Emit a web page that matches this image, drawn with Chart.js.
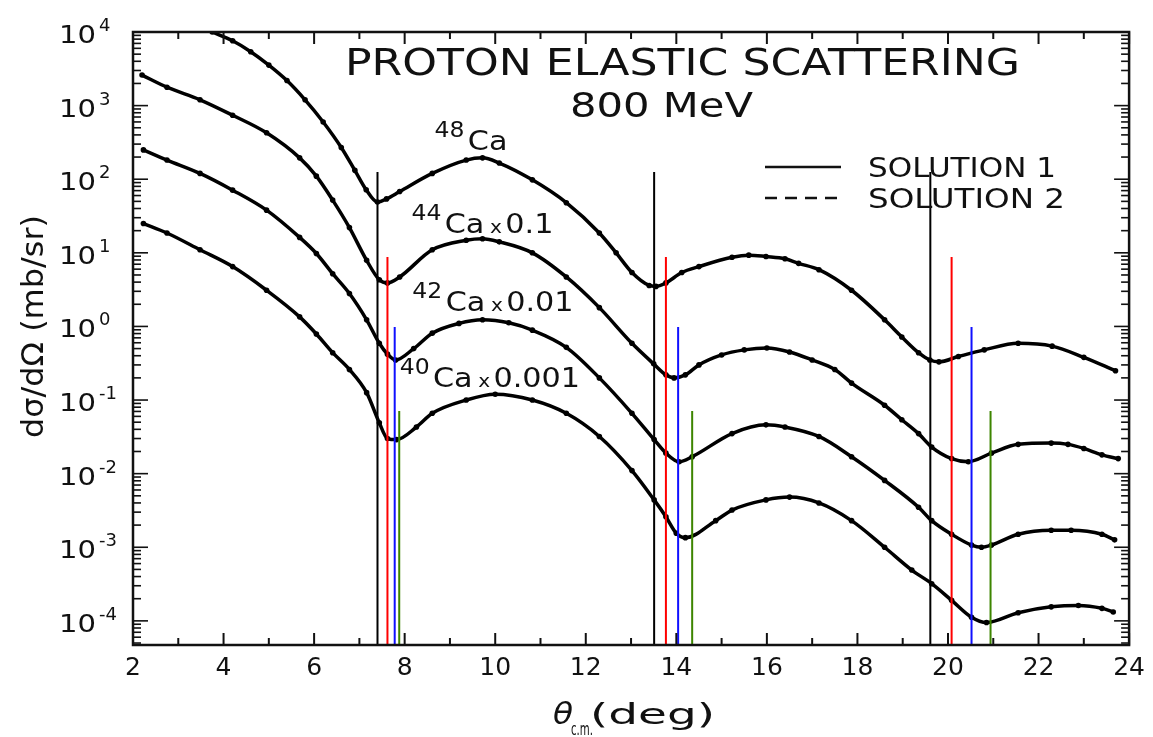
<!DOCTYPE html>
<html>
<head>
<meta charset="utf-8">
<script src="https://cdn.jsdelivr.net/npm/chart.js@4.4.1/dist/chart.umd.min.js"></script>
<style>
  html, body { margin: 0; padding: 0; background: #fff; }
  #wrap { width: 1153px; height: 737px; }
</style>
</head>
<body>
<div id="wrap"><canvas id="chart" width="1153" height="737"></canvas></div>
<script>
// 800 MeV proton elastic scattering on Ca isotopes
// angles in deg (c.m.), cross sections in mb/sr (already scaled)
const ca48Angle = [3.75, 4.2, 4.6, 5.0, 5.4, 5.8, 6.2, 6.6, 6.9, 7.15, 7.4, 7.6, 7.89, 8.61, 9.36, 9.72, 10.09, 10.82, 11.57, 12.3, 12.67, 13.02, 13.4, 13.55, 13.77, 14.12, 14.5, 15.23, 15.6, 15.98, 16.4, 16.7, 17.15, 17.87, 18.6, 18.98, 19.35, 19.6, 19.8, 20.23, 20.8, 21.55, 22.3, 23.0, 23.7];
const ca48Sigma = [10000, 7600, 5400, 3550, 2190, 1200, 600, 270, 132, 72, 49, 54, 68, 120, 182, 195, 166, 98, 48, 18.6, 10, 5.4, 3.6, 3.5, 3.9, 5.4, 6.5, 8.7, 9.3, 8.9, 8.3, 7.2, 5.9, 3.1, 1.23, 0.72, 0.44, 0.35, 0.33, 0.39, 0.48, 0.59, 0.54, 0.38, 0.25];

const ca44Angle = [2.2, 2.75, 3.48, 4.2, 4.95, 5.68, 6.05, 6.41, 6.78, 7.16, 7.44, 7.62, 7.89, 8.61, 9.36, 9.72, 10.09, 10.82, 11.57, 12.3, 13.02, 13.5, 13.77, 13.95, 14.2, 14.5, 15.0, 15.5, 16.0, 16.5, 17.0, 17.5, 17.87, 18.6, 18.98, 19.35, 19.64, 20.08, 20.45, 20.96, 21.55, 22.28, 22.65, 23.0, 23.4, 23.76];
const ca44Sigma = [2600, 1780, 1200, 740, 427, 195, 110, 52, 22, 7.9, 4.3, 3.9, 4.7, 11, 14.8, 15.5, 14.1, 10, 4.7, 1.8, 0.59, 0.31, 0.22, 0.2, 0.22, 0.30, 0.41, 0.48, 0.51, 0.45, 0.35, 0.26, 0.17, 0.085, 0.054, 0.035, 0.023, 0.016, 0.0145, 0.019, 0.025, 0.026, 0.025, 0.022, 0.018, 0.016];

const ca42Angle = [2.23, 2.75, 3.48, 4.2, 4.95, 5.68, 6.05, 6.41, 6.78, 7.16, 7.44, 7.62, 7.8, 8.2, 8.61, 9.2, 9.72, 10.3, 10.82, 11.57, 12.3, 13.02, 13.51, 13.77, 14.06, 14.35, 15.23, 15.98, 16.4, 17.15, 17.87, 18.6, 19.35, 19.64, 20.08, 20.52, 20.74, 20.96, 21.55, 22.28, 22.72, 23.4, 23.68];
const ca42Sigma = [250, 182, 120, 71, 38, 16.2, 9.8, 5.2, 2.8, 1.23, 0.59, 0.42, 0.35, 0.5, 0.81, 1.1, 1.23, 1.12, 0.89, 0.52, 0.20, 0.066, 0.029, 0.019, 0.0145, 0.017, 0.035, 0.046, 0.043, 0.032, 0.017, 0.0081, 0.0035, 0.0023, 0.0015, 0.00107, 0.001, 0.00107, 0.0015, 0.0017, 0.0017, 0.0015, 0.00126];

const ca40Angle = [2.23, 2.75, 3.48, 4.2, 4.95, 5.68, 6.05, 6.41, 6.78, 7.16, 7.44, 7.62, 7.82, 8.26, 8.61, 9.36, 10.0, 10.82, 11.57, 12.3, 13.02, 13.51, 13.77, 14.0, 14.2, 14.87, 15.23, 15.98, 16.5, 17.15, 17.87, 18.6, 19.2, 19.64, 20.08, 20.52, 20.85, 21.55, 22.28, 22.88, 23.4, 23.65];
const ca40Sigma = [25, 18.6, 11, 6.5, 3.1, 1.35, 0.79, 0.44, 0.26, 0.126, 0.049, 0.030, 0.029, 0.043, 0.066, 0.10, 0.12, 0.10, 0.066, 0.032, 0.011, 0.0044, 0.0026, 0.00155, 0.00135, 0.0023, 0.0032, 0.0044, 0.0048, 0.0040, 0.0023, 0.0010, 0.00049, 0.00032, 0.00019, 0.000112, 0.000095, 0.000129, 0.000155, 0.000162, 0.000148, 0.000132];

// vertical marker lines (minima positions) and the value where each one stops
const blackMarkAngles = [7.40, 13.51, 19.61];
const redMarkAngles = [7.62, 13.77, 20.08];
const blueMarkAngles = [7.78, 14.04, 20.52];
const greenMarkAngles = [7.88, 14.35, 20.94];
const markTops = { black: 125, red: 8.8, blue: 0.98, green: 0.071 };

const xTickValues = [2, 4, 6, 8, 10, 12, 14, 16, 18, 20, 22, 24];
const yExponents = [4, 3, 2, 1, 0, -1, -2, -3, -4];

const X_MIN = 2, X_MAX = 24;
const Y_MIN = 4.7e-5, Y_MAX = 1e4;
const FONT = '"DejaVu Sans", sans-serif';

function pairs(angles, sigma) {
  return angles.map((a, i) => ({ x: a, y: sigma[i] }));
}

function markerData(angles, top) {
  const pts = [];
  angles.forEach((a) => {
    pts.push({ x: a, y: Y_MIN }, { x: a, y: top }, { x: a, y: null });
  });
  return pts;
}

function curve(label, data) {
  return {
    label: label,
    data: data,
    showLine: true,
    borderColor: "#000",
    borderWidth: 3.5,
    pointRadius: 2.8,
    pointBackgroundColor: "#000",
    pointBorderWidth: 0,
    cubicInterpolationMode: "monotone",
    order: 2,
  };
}

function marker(label, data, color) {
  return {
    label: label,
    data: data,
    showLine: true,
    spanGaps: false,
    borderColor: color,
    borderWidth: 2,
    pointRadius: 0,
    order: 1,
  };
}

// text squeezed/stretched to a given width, like the lettering of the original
function fitText(ctx, text, x, y, size, width, italic) {
  ctx.font = (italic ? "italic " : "") + size + "px " + FONT;
  const w = ctx.measureText(text).width;
  ctx.save();
  ctx.translate(x, y);
  ctx.scale(width / w, 1);
  ctx.textAlign = "left";
  ctx.textBaseline = "alphabetic";
  ctx.fillText(text, 0, 0);
  ctx.restore();
}

function drawIsotope(ctx, px, py, mass, factor) {
  const k = 1.12;
  ctx.save();
  ctx.translate(px, py);
  ctx.scale(k, 1);
  ctx.textAlign = "left";
  ctx.textBaseline = "alphabetic";
  let cx = 0;
  ctx.font = "21px " + FONT;
  ctx.fillText(mass, cx, -13);
  cx += ctx.measureText(mass).width + 3;
  ctx.font = "27px " + FONT;
  ctx.fillText("Ca", cx, 0);
  cx += ctx.measureText("Ca").width + 5;
  if (factor) {
    ctx.font = "18px " + FONT;
    ctx.fillText("x", cx, 0);
    cx += ctx.measureText("x").width + 3;
    ctx.font = "27px " + FONT;
    ctx.fillText(factor, cx, 0);
  }
  ctx.restore();
}

const paperPlugin = {
  id: "paper",
  afterDraw(chart) {
    const { ctx, chartArea: a } = chart;
    const x = chart.scales.x;
    const y = chart.scales.y;
    ctx.save();
    ctx.strokeStyle = "#111";
    ctx.fillStyle = "#111";

    function seg(x1, y1, x2, y2) {
      ctx.beginPath();
      ctx.moveTo(x1, y1);
      ctx.lineTo(x2, y2);
      ctx.stroke();
    }

    // inward ticks, all four sides
    ctx.lineWidth = 2;
    for (let v = X_MIN; v <= X_MAX; v++) {
      const px = x.getPixelForValue(v);
      const len = v % 2 === 0 ? 12 : 7;
      seg(px, a.bottom, px, a.bottom - len);
      seg(px, a.top, px, a.top + len);
    }
    ctx.lineWidth = 1.6;
    for (let e = -5; e <= 4; e++) {
      for (let m = 1; m <= 9; m++) {
        const v = m * Math.pow(10, e);
        if (v < Y_MIN || v > Y_MAX) continue;
        const py = y.getPixelForValue(v);
        const len = m === 1 ? 15 : 8;
        seg(a.left, py, a.left + len, py);
        seg(a.right, py, a.right - len, py);
      }
    }

    // frame
    ctx.lineWidth = 2.5;
    ctx.strokeRect(a.left, a.top, a.right - a.left, a.bottom - a.top);

    // y tick labels 10^n
    ctx.textBaseline = "alphabetic";
    yExponents.forEach((e) => {
      const py = y.getPixelForValue(Math.pow(10, e));
      fitText(ctx, "10", 59, py + 11, 25, 37);
      ctx.font = "18px " + FONT;
      ctx.textAlign = "left";
      ctx.fillText(e < 0 ? "-" + Math.abs(e) : String(e), 99, py - 1);
    });

    // axis titles
    ctx.save();
    ctx.translate(43, 438);
    ctx.rotate(-Math.PI / 2);
    fitText(ctx, "d\u03c3/d\u03a9 (mb/sr)", 0, 0, 30, 223);
    ctx.restore();
    fitText(ctx, "\u03b8", 553, 724, 30, 20, true);
    fitText(ctx, "c.m.", 571, 735, 17, 22);
    fitText(ctx, "(deg)", 590, 724, 28, 125);

    // title
    fitText(ctx, "PROTON ELASTIC SCATTERING", 345, 75, 37, 675);
    fitText(ctx, "800 MeV", 570, 117, 34, 183);

    // legend
    ctx.lineWidth = 2.5;
    seg(765, 167, 841, 167);
    ctx.setLineDash([12, 8]);
    seg(765, 198, 845, 198);
    ctx.setLineDash([]);
    fitText(ctx, "SOLUTION 1", 868, 177, 27, 188);
    fitText(ctx, "SOLUTION 2", 868, 208, 27, 197);

    // curve labels, anchored on the data scales
    drawIsotope(ctx, x.getPixelForValue(8.66), y.getPixelForValue(250), "48", "");
    drawIsotope(ctx, x.getPixelForValue(8.15), y.getPixelForValue(18.6), "44", "0.1");
    drawIsotope(ctx, x.getPixelForValue(8.17), y.getPixelForValue(1.62), "42", "0.01");
    drawIsotope(ctx, x.getPixelForValue(7.89), y.getPixelForValue(0.15), "40", "0.001");

    ctx.restore();
  },
};

new Chart(document.getElementById("chart"), {
  type: "scatter",
  data: {
    datasets: [
      curve("48Ca", pairs(ca48Angle, ca48Sigma)),
      curve("44Ca x 0.1", pairs(ca44Angle, ca44Sigma)),
      curve("42Ca x 0.01", pairs(ca42Angle, ca42Sigma)),
      curve("40Ca x 0.001", pairs(ca40Angle, ca40Sigma)),
      marker("48Ca minima", markerData(blackMarkAngles, markTops.black), "#000000"),
      marker("44Ca minima", markerData(redMarkAngles, markTops.red), "#ff0000"),
      marker("42Ca minima", markerData(blueMarkAngles, markTops.blue), "#1010ff"),
      marker("40Ca minima", markerData(greenMarkAngles, markTops.green), "#3d8500"),
    ],
  },
  options: {
    responsive: false,
    animation: false,
    devicePixelRatio: 1,
    layout: { padding: { top: 32, right: 23, left: 0, bottom: 0 } },
    plugins: {
      legend: { display: false },
      tooltip: { enabled: false },
    },
    scales: {
      x: {
        type: "linear",
        min: X_MIN,
        max: X_MAX,
        grid: { display: false, drawTicks: false },
        border: { display: false },
        afterBuildTicks: (s) => {
          s.ticks = xTickValues.map((v) => ({ value: v }));
        },
        ticks: {
          autoSkip: false,
          maxRotation: 0,
          color: "#111",
          padding: 8,
          font: { family: "DejaVu Sans", size: 25 },
        },
        afterFit: (s) => {
          s.height = 92;
        },
      },
      y: {
        type: "logarithmic",
        min: Y_MIN,
        max: Y_MAX,
        grid: { display: false, drawTicks: false },
        border: { display: false },
        ticks: { display: false },
        afterFit: (s) => {
          s.width = 133;
        },
      },
    },
  },
  plugins: [paperPlugin],
});
</script>
</body>
</html>
